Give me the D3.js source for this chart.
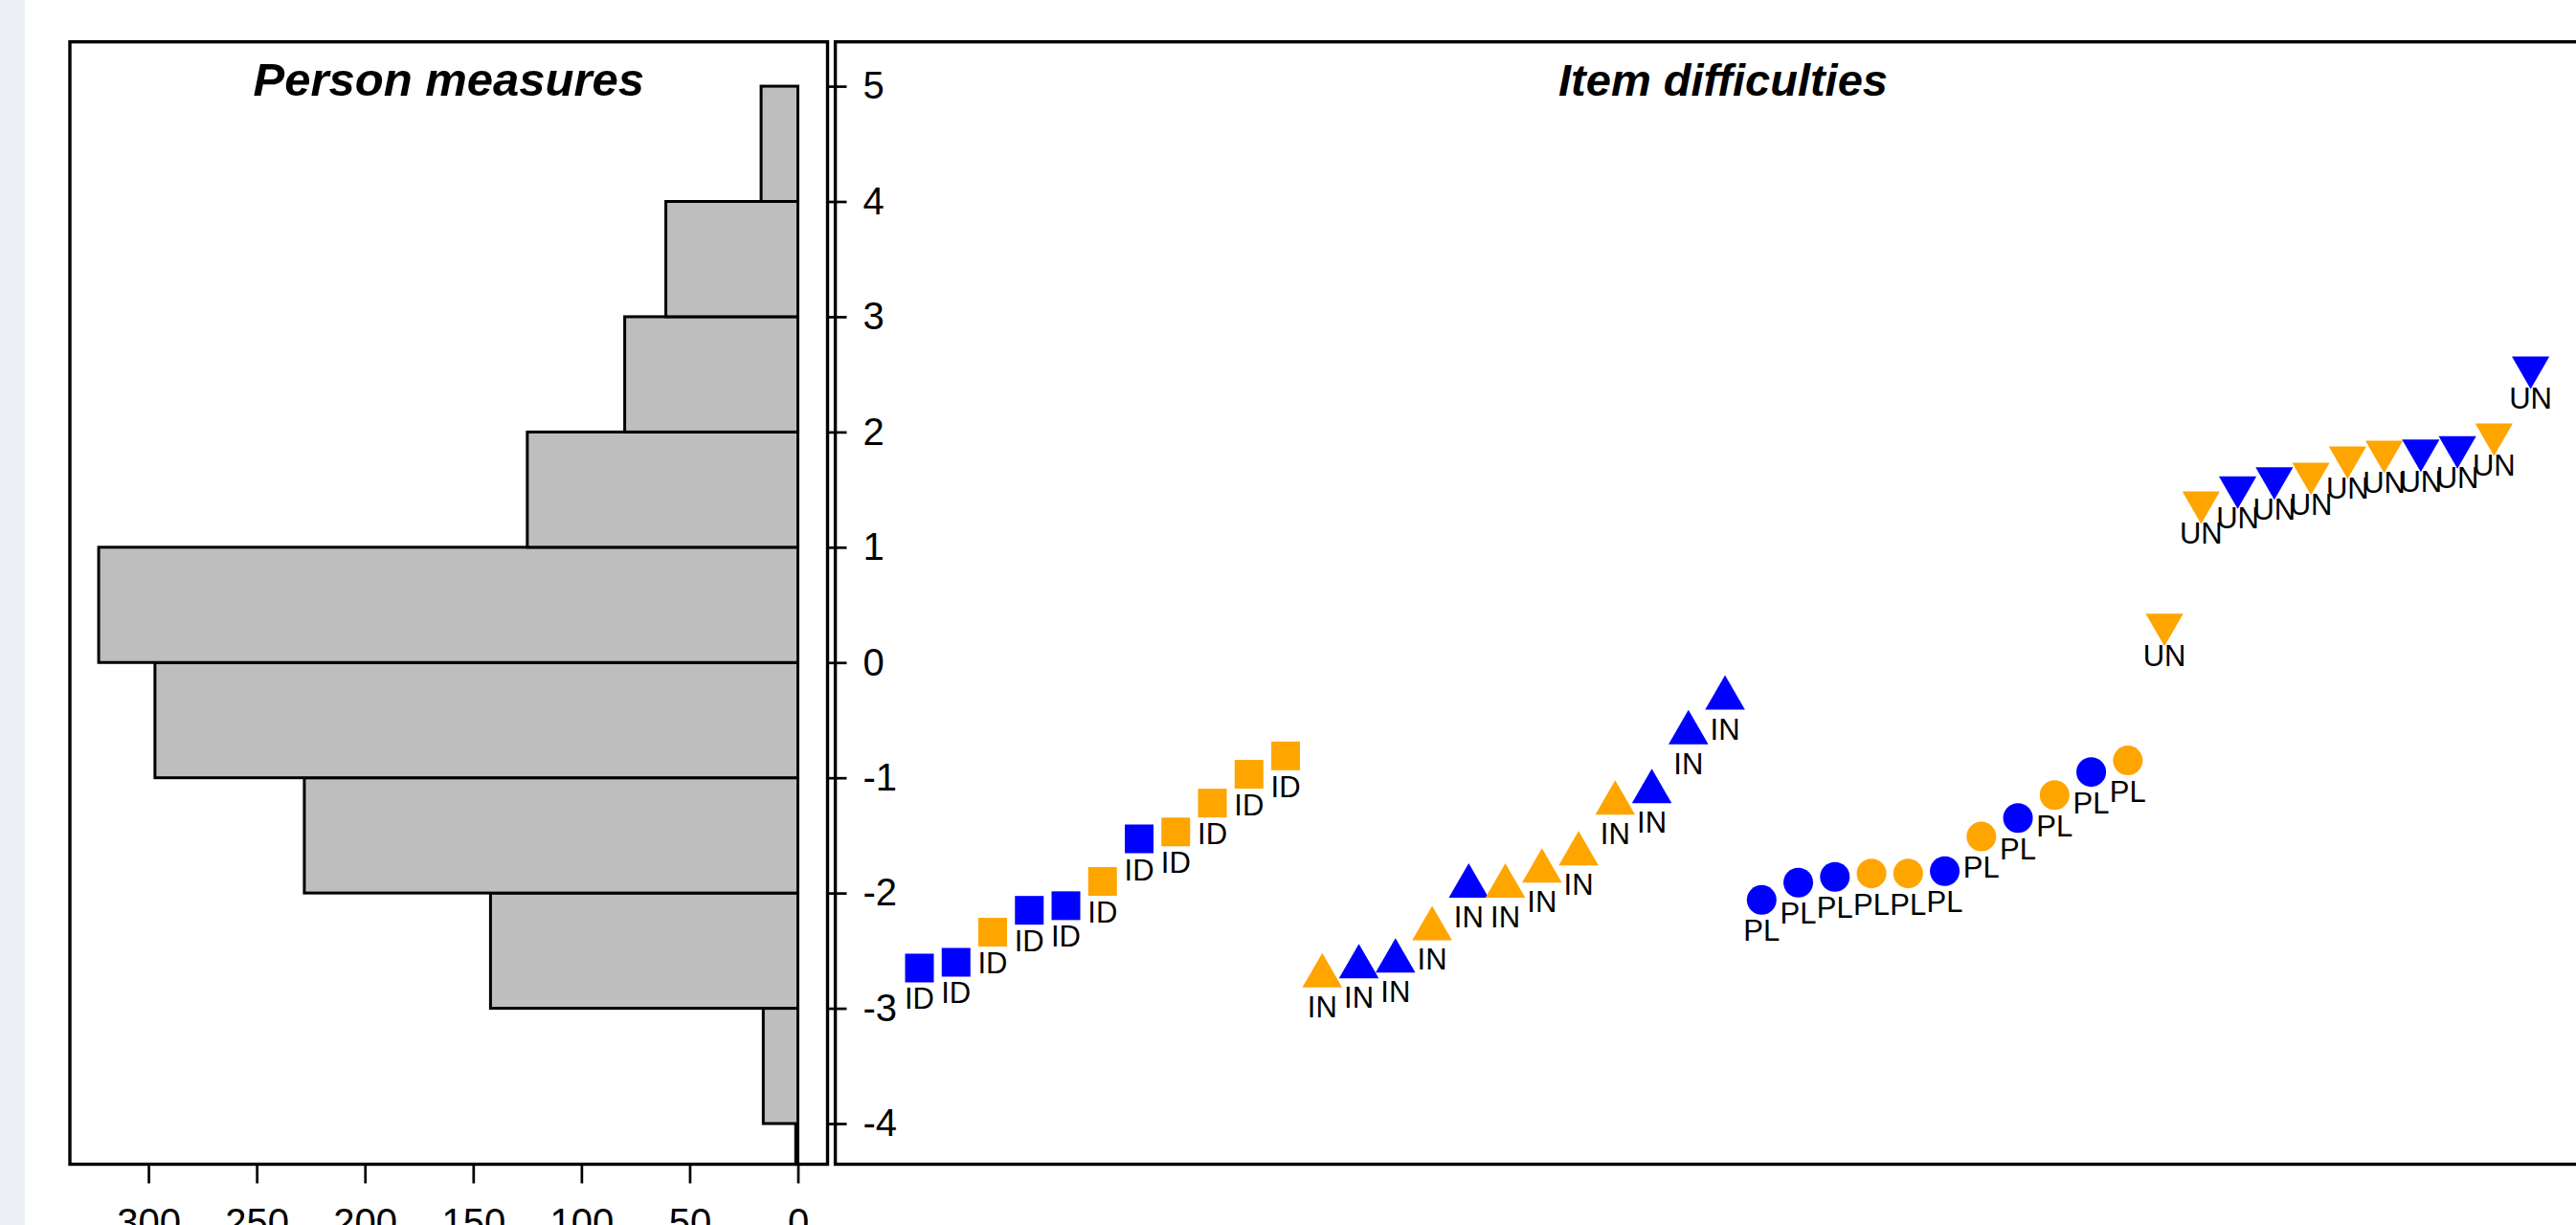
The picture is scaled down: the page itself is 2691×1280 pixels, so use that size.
<!DOCTYPE html>
<html>
<head>
<meta charset="utf-8">
<script src="https://cdn.jsdelivr.net/npm/d3@7"></script>
<style>
  html, body { margin: 0; padding: 0; background: #ffffff; }
  body { width: 2691px; height: 1280px; overflow: hidden; position: relative; }
  #strip { position: absolute; left: 0; top: 0; width: 26px; height: 1280px; background: #ecf0f5; }
  svg { position: absolute; left: 0; top: 0; }
  svg text { font-family: Arial, "Liberation Sans", sans-serif; fill: #000; }
</style>
</head>
<body>
<div id="strip"></div>
<div id="chart"></div>
<script>
// person measures histogram, one logit per bin
var binStarts = [-5, -4, -3, -2, -1, 0, 1, 2, 3, 4];
var binCounts = [1, 16, 142, 228, 297, 323, 125, 80, 61, 17];
var countTicks = [0, 50, 100, 150, 200, 250, 300];
var logitTicks = [-4, -3, -2, -1, 0, 1, 2, 3, 4, 5];

// item difficulties (logits), in plotting order
var itemLabels = [
    "ID", "ID", "ID", "ID", "ID", "ID", "ID", "ID", "ID", "ID", "ID",
    "IN", "IN", "IN", "IN", "IN", "IN", "IN", "IN", "IN", "IN", "IN", "IN",
    "PL", "PL", "PL", "PL", "PL", "PL", "PL", "PL", "PL", "PL", "PL",
    "UN", "UN", "UN", "UN", "UN", "UN", "UN", "UN", "UN", "UN", "UN"
];
var itemForms = [
    "A", "A", "B", "A", "A", "B", "A", "B", "B", "B", "B",
    "B", "A", "A", "B", "A", "B", "B", "B", "B", "A", "A", "A",
    "A", "A", "A", "B", "B", "A", "B", "A", "B", "A", "B",
    "B", "B", "A", "A", "B", "B", "B", "A", "A", "B", "A"
];
var itemValues = [
    -2.65, -2.60, -2.34, -2.15, -2.11, -1.90, -1.53, -1.47, -1.22, -0.97, -0.81,
    -2.72, -2.64, -2.59, -2.31, -1.94, -1.94, -1.81, -1.66, -1.22, -1.12, -0.61, -0.31,
    -2.06, -1.91, -1.86, -1.83, -1.83, -1.81, -1.51, -1.35, -1.15, -0.95, -0.85,
    0.33, 1.39, 1.52, 1.60, 1.64, 1.78, 1.83, 1.84, 1.87, 1.98, 2.56
];

function drawChart() {
    var width = 2691, height = 1280;
    var plotTop = 43.7, plotBottom = 1216.5;
    var left1 = 73, right1 = 864.5;      // person panel
    var left2 = 872.6, right2 = 2727;    // item panel (runs past the window)

    var svg = d3.select("#chart").append("svg")
        .attr("width", width)
        .attr("height", height);

    var y = d3.scaleLinear().domain([-4.353, 5.385]).range([plotBottom, plotTop]);
    var xCount = d3.scaleLinear().domain([336.3, -13.7]).range([left1, right1]);
    var xItem = d3.scaleLinear().domain([-1.298, 47.18]).range([left2, right2]);

    var colorScale = d3.scaleOrdinal().domain(["A", "B"]).range(["#0000ff", "#ffa500"]);

    // clip paths for the two panels
    var defs = svg.append("defs");
    defs.append("clipPath").attr("id", "clip1").append("rect")
        .attr("x", left1).attr("y", plotTop)
        .attr("width", right1 - left1).attr("height", plotBottom - plotTop);
    defs.append("clipPath").attr("id", "clip2").append("rect")
        .attr("x", left2).attr("y", plotTop)
        .attr("width", right2 - left2).attr("height", plotBottom - plotTop);

    // histogram bars
    svg.append("g")
        .attr("clip-path", "url(#clip1)")
        .selectAll("rect")
        .data(binStarts)
        .enter()
        .append("rect")
        .attr("x", function(d, i) { return xCount(binCounts[i]); })
        .attr("y", function(d) { return y(d + 1); })
        .attr("width", function(d, i) { return xCount(0) - xCount(binCounts[i]); })
        .attr("height", function(d) { return y(d) - y(d + 1); })
        .attr("fill", "#bebebe")
        .attr("stroke", "#000")
        .attr("stroke-width", 3);

    // item markers
    function symbolFor(label) {
        if (label === "ID") return d3.symbol().type(d3.symbolSquare).size(900)();
        if (label === "IN") return d3.symbol().type(d3.symbolTriangle).size(748)();
        if (label === "PL") return d3.symbol().type(d3.symbolCircle).size(755)();
        return d3.symbol().type(d3.symbolTriangle).size(665)();
    }

    var items = svg.append("g").attr("clip-path", "url(#clip2)");

    items.selectAll("path")
        .data(itemValues)
        .enter()
        .append("path")
        .attr("d", function(d, i) { return symbolFor(itemLabels[i]); })
        .attr("transform", function(d, i) {
            var t = "translate(" + xItem(i + 1) + "," + y(d) + ")";
            if (itemLabels[i] === "UN") t += " rotate(180)";
            return t;
        })
        .attr("fill", function(d, i) { return colorScale(itemForms[i]); });

    items.selectAll("text")
        .data(itemValues)
        .enter()
        .append("text")
        .attr("x", function(d, i) { return xItem(i + 1); })
        .attr("y", function(d) { return y(d) + 43; })
        .attr("text-anchor", "middle")
        .attr("font-size", 31)
        .text(function(d, i) { return itemLabels[i]; });

    // axes
    var countAxis = svg.append("g")
        .attr("transform", "translate(0," + plotBottom + ")")
        .call(d3.axisBottom(xCount).tickValues(countTicks).tickSize(20).tickPadding(26));
    countAxis.select(".domain").remove();
    countAxis.selectAll("line").attr("stroke-width", 2.7);
    countAxis.selectAll("text").attr("font-size", 40).attr("font-family", null);

    var logitAxis = svg.append("g")
        .attr("transform", "translate(" + right1 + ",0)")
        .call(d3.axisRight(y).tickValues(logitTicks).tickSize(20).tickPadding(17)
            .tickFormat(function(d) { return String(d); }));
    logitAxis.select(".domain").remove();
    logitAxis.selectAll("line").attr("stroke-width", 2.7);
    logitAxis.selectAll("text").attr("font-size", 40).attr("font-family", null);

    // panel frames
    svg.append("rect")
        .attr("x", left1).attr("y", plotTop)
        .attr("width", right1 - left1).attr("height", plotBottom - plotTop)
        .attr("fill", "none").attr("stroke", "#000").attr("stroke-width", 3.4);
    svg.append("rect")
        .attr("x", left2).attr("y", plotTop)
        .attr("width", right2 - left2).attr("height", plotBottom - plotTop)
        .attr("fill", "none").attr("stroke", "#000").attr("stroke-width", 3.4);

    // titles
    svg.append("text")
        .attr("x", (left1 + right1) / 2).attr("y", 100)
        .attr("text-anchor", "middle")
        .attr("font-size", 49).attr("font-weight", "bold").attr("font-style", "italic")
        .text("Person measures");
    svg.append("text")
        .attr("x", 1800).attr("y", 100)
        .attr("text-anchor", "middle")
        .attr("font-size", 47).attr("font-weight", "bold").attr("font-style", "italic")
        .text("Item difficulties");
}

drawChart();
</script>
</body>
</html>
